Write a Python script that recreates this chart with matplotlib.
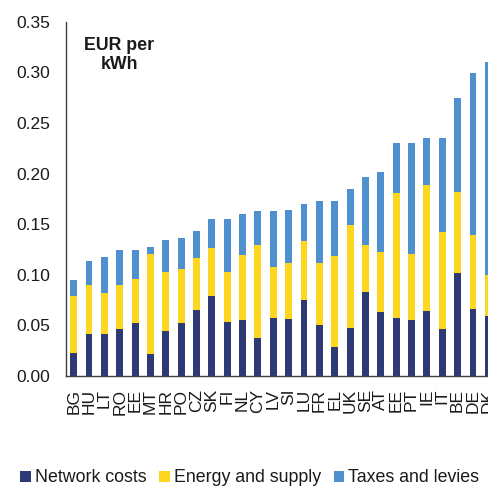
import matplotlib
matplotlib.use("Agg")
import matplotlib.pyplot as plt
import numpy as np

plt.rcParams['font.family'] = ['Liberation Sans', 'DejaVu Sans']

countries = ["BG", "HU", "LT", "RO", "EE", "MT", "HR", "PO", "CZ", "SK",
             "FI", "NL", "CY", "LV", "SI", "LU", "FR", "EL", "UK", "SE",
             "AT", "EE", "PT", "IE", "IT", "BE", "DE", "DK"]

network_costs = [0.023, 0.042, 0.042, 0.046, 0.052, 0.022, 0.044, 0.052, 0.065, 0.079,
                 0.053, 0.055, 0.038, 0.057, 0.056, 0.075, 0.050, 0.029, 0.047, 0.083,
                 0.063, 0.057, 0.055, 0.064, 0.046, 0.102, 0.066, 0.059]
energy_supply = [0.056, 0.048, 0.040, 0.044, 0.044, 0.099, 0.059, 0.054, 0.052, 0.047,
                 0.050, 0.065, 0.091, 0.051, 0.056, 0.058, 0.062, 0.090, 0.102, 0.046,
                 0.060, 0.124, 0.066, 0.125, 0.096, 0.080, 0.073, 0.041]
taxes_levies = [0.016, 0.024, 0.036, 0.034, 0.028, 0.006, 0.031, 0.030, 0.026, 0.029,
                0.052, 0.040, 0.034, 0.055, 0.052, 0.037, 0.061, 0.054, 0.036, 0.068,
                0.079, 0.049, 0.109, 0.046, 0.093, 0.093, 0.160, 0.210]

y_ticks = [0.00, 0.05, 0.10, 0.15, 0.20, 0.25, 0.30, 0.35]

navy = "#2E3A76"
yellow = "#FDD620"
blue = "#4F91CE"
axis_grey = "#404040"
text_col = "#1A1A1A"

fig = plt.figure(figsize=(4.88, 4.86), dpi=100)
ax = fig.add_axes([0.1352, 0.2263, 0.8812, 0.7290])

x = np.arange(len(countries))
net = np.array(network_costs)
eng = np.array(energy_supply)
tax = np.array(taxes_levies)
w = 0.45

ax.bar(x, net, width=w, color=navy, label="Network costs")
ax.bar(x, eng, width=w, bottom=net, color=yellow, label="Energy and supply")
ax.bar(x, tax, width=w, bottom=net + eng, color=blue, label="Taxes and levies")

ax.set_xlim(-0.5, len(countries) - 0.5)
ax.set_ylim(0, 0.35)
ax.set_yticks(y_ticks)
ax.set_yticklabels([f"{v:.2f}" for v in y_ticks])
ax.set_xticks(x)
ax.set_xticklabels(countries, rotation=90, va="top", ha="center")

for s in ["top", "right"]:
    ax.spines[s].set_visible(False)
for s in ["left", "bottom"]:
    ax.spines[s].set_color(axis_grey)
    ax.spines[s].set_linewidth(1.0)

ax.tick_params(axis="y", length=0, pad=11.5, labelsize=12.5, labelcolor=text_col)
ax.tick_params(axis="x", length=0, pad=9, labelsize=12.5, labelcolor=text_col)

ax.text(0.124, 0.905, "EUR per\nkWh", transform=ax.transAxes, ha="center",
        va="center", fontsize=12.8, fontweight="bold", color=text_col,
        linespacing=1.15)

handles, labels = ax.get_legend_handles_labels()
fig.legend(handles, labels, loc="center left", bbox_to_anchor=(0.042, 0.0165),
           ncol=3, frameon=False, fontsize=12.8, handlelength=0.57,
           handleheight=0.57, handletextpad=0.22, columnspacing=0.75,
           borderaxespad=0, borderpad=0, labelcolor=text_col)

fig.savefig("out.png", dpi=100)
